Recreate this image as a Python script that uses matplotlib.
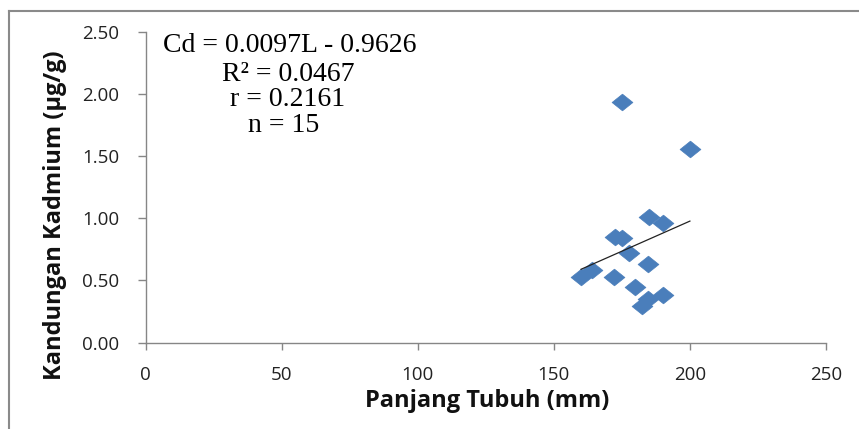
import matplotlib
matplotlib.use("Agg")
import matplotlib.pyplot as plt
from matplotlib.path import Path
from matplotlib.lines import Line2D
import numpy as np

# ---- data ----
panjang = [175, 200, 185, 190, 172.5, 175, 177.6, 184.7, 160, 164, 172, 180, 190.2, 184.7, 182.3]
kadmium = [1.94, 1.56, 1.01, 0.96, 0.85, 0.84, 0.72, 0.63, 0.53, 0.58, 0.53, 0.45, 0.38, 0.35, 0.29]
slope = 0.0097
intercept = -0.9626
eq_lines = ["Cd = 0.0097L - 0.9626", "R² = 0.0467", "r = 0.2161", "n = 15"]
x_ticks = [0, 50, 100, 150, 200, 250]
y_ticks = [0.0, 0.5, 1.0, 1.5, 2.0, 2.5]
x_label = "Panjang Tubuh (mm)"
y_label = "Kandungan Kadmium (µg/g)"

W, H = 859, 429
fig = plt.figure(figsize=(W / 100, H / 100), dpi=100)
ax = fig.add_axes([145.5 / W, 1 - 342.5 / H, (826 - 145.5) / W, (342.5 - 32) / H])

axis_col = "#868686"
blue = "#4A7EBB"

diamond = Path([(-1, 0), (0, 0.8), (1, 0), (0, -0.8), (-1, 0)],
               [Path.MOVETO, Path.LINETO, Path.LINETO, Path.LINETO, Path.CLOSEPOLY])

ax.plot(panjang, kadmium, linestyle="none", marker=diamond, markersize=15,
        markerfacecolor=blue, markeredgecolor=blue, markeredgewidth=0.5, zorder=3)

xt = np.array([min(panjang), max(panjang)])
ax.plot(xt, slope * xt + intercept, color="#222222", linewidth=0.9, zorder=4)

ax.set_xlim(0, 250)
ax.set_ylim(0, 2.5)
ax.set_xticks(x_ticks)
ax.set_yticks(y_ticks)
ax.set_xticklabels([str(v) for v in x_ticks])
ax.set_yticklabels([f"{v:.2f}" for v in y_ticks])

for s in ["top", "right"]:
    ax.spines[s].set_visible(False)
for s in ["left", "bottom"]:
    ax.spines[s].set_color(axis_col)
    ax.spines[s].set_linewidth(1.0)

ax.tick_params(axis="y", direction="out", length=6, width=1, color=axis_col,
               pad=13, labelsize=13.5, labelcolor="#222222")
ax.tick_params(axis="x", direction="out", length=5, width=1, color=axis_col,
               pad=12, labelsize=13.5, labelcolor="#222222")
for lab in ax.get_xticklabels() + ax.get_yticklabels():
    lab.set_fontfamily("Open Sans")

fig.text(487 / W, 1 - 401 / H, x_label, ha="center", va="center",
         fontsize=17, fontweight="bold", family="Open Sans", color="#111111")
fig.text(55 / W, 1 - 215 / H, y_label, ha="center", va="center", rotation=90,
         fontsize=17, fontweight="bold", family="Open Sans", color="#111111")

baselines = [52, 81, 106.5, 131.5]
centers = [290, 288, 288, 284]
for txt, yb, xc in zip(eq_lines, baselines, centers):
    fig.text(xc / W, 1 - yb / H, txt, ha="center", va="baseline",
             fontsize=20, family="Liberation Serif", color="#000000")

# outer frame (top and left only)
fig.add_artist(Line2D([8.5 / W, 1], [1 - 10.5 / H, 1 - 10.5 / H],
                      transform=fig.transFigure, color="#8a8a8a", linewidth=1.5))
fig.add_artist(Line2D([8.5 / W, 8.5 / W], [0, 1 - 10.5 / H],
                      transform=fig.transFigure, color="#8a8a8a", linewidth=1.5))

fig.savefig("out.png", dpi=100)
